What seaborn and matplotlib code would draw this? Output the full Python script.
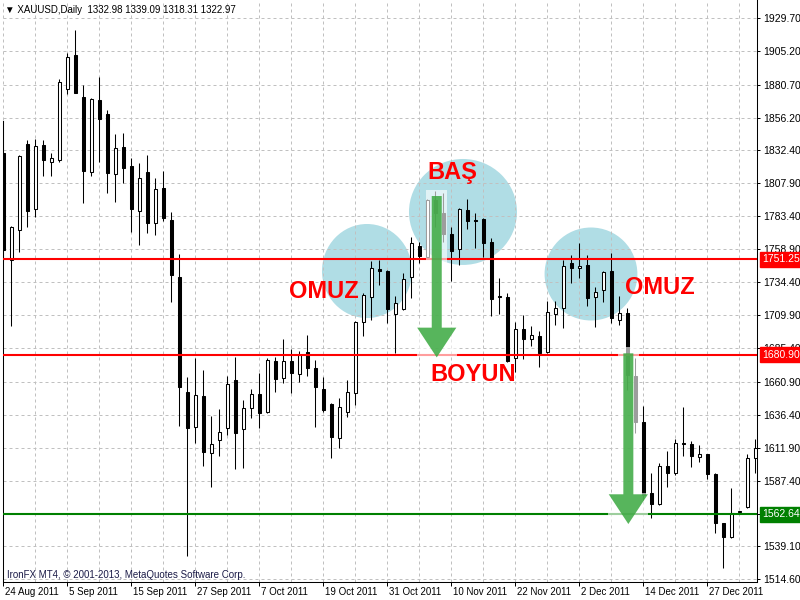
import numpy as np
import matplotlib
matplotlib.use("Agg")
import matplotlib.pyplot as plt
import matplotlib.transforms as mtransforms
from matplotlib.patches import Ellipse, FancyArrow, Polygon
from matplotlib.ticker import MultipleLocator
import seaborn as sns

# XAUUSD daily candles, 24 Aug 2011 .. early Jan 2012
opens = [1830.0, 1750.8, 1773.0, 1836.7, 1788.6, 1835.9, 1823.4, 1824.8, 1877.4, 1902.5,
         1871.5, 1816.0, 1869.2, 1858.9, 1814.5, 1834.5, 1820.4, 1787.1, 1815.9, 1778.2,
         1804.1, 1780.4, 1738.2, 1653.2, 1627.3, 1650.2, 1608.0, 1617.6, 1626.5, 1662.0,
         1625.8, 1641.3, 1651.7, 1638.4, 1676.1, 1663.5, 1676.1, 1666.5, 1682.8, 1670.9,
         1655.4, 1644.6, 1619.1, 1638.4, 1652.4, 1705.0, 1723.5, 1744.2, 1742.7, 1710.9,
         1714.6, 1738.3, 1761.2, 1753.1, 1795.2, 1785.6, 1770.1, 1759.0, 1787.8, 1780.4,
         1781.2, 1764.2, 1724.2, 1723.5, 1678.3, 1699.8, 1692.4, 1694.6, 1682.8, 1710.9,
         1715.3, 1748.6, 1744.9, 1747.1, 1723.5, 1728.6, 1742.7, 1706.4, 1711.6, 1665.0,
         1630.9, 1578.4, 1570.3, 1598.4, 1593.2, 1615.2, 1614.7, 1605.1, 1607.3, 1592.5,
         1556.0, 1545.9, 1564.4, 1568.1, 1604.3]
highs = [1853.7, 1776.0, 1828.5, 1839.6, 1840.4, 1839.6, 1830.0, 1884.8, 1904.0, 1921.0,
         1880.3, 1870.7, 1886.2, 1861.8, 1844.1, 1844.8, 1826.3, 1822.6, 1828.5, 1811.5,
         1816.7, 1786.4, 1755.3, 1664.2, 1678.3, 1669.4, 1635.4, 1640.6, 1665.0, 1679.1,
         1647.2, 1655.4, 1667.2, 1678.3, 1679.1, 1692.4, 1685.0, 1683.5, 1695.3, 1676.8,
         1664.2, 1645.0, 1648.7, 1662.0, 1705.7, 1726.4, 1750.1, 1750.8, 1743.4, 1724.2,
         1741.2, 1767.9, 1764.2, 1796.0, 1802.1, 1800.4, 1775.2, 1789.3, 1795.9, 1785.6,
         1781.9, 1767.1, 1737.5, 1726.4, 1705.0, 1710.1, 1702.0, 1698.3, 1720.5, 1720.5,
         1750.8, 1754.5, 1763.4, 1754.5, 1730.9, 1742.7, 1756.0, 1724.2, 1715.3, 1678.3,
         1642.8, 1593.2, 1600.6, 1609.5, 1618.4, 1642.1, 1616.9, 1613.9, 1607.3, 1593.2,
         1556.2, 1582.1, 1565.5, 1607.3, 1618.4]
lows = [1750.1, 1702.0, 1756.8, 1775.3, 1782.7, 1813.0, 1813.0, 1823.4, 1873.7, 1874.4,
        1793.0, 1813.0, 1823.4, 1800.4, 1793.8, 1807.8, 1771.6, 1761.9, 1770.8, 1769.3,
        1779.7, 1719.8, 1628.0, 1531.8, 1615.4, 1598.4, 1582.9, 1605.8, 1621.3, 1596.2,
        1596.9, 1633.9, 1626.5, 1637.6, 1653.2, 1659.8, 1652.4, 1660.6, 1665.0, 1627.3,
        1638.4, 1604.3, 1611.7, 1634.6, 1643.5, 1694.6, 1706.4, 1732.3, 1704.2, 1682.0,
        1713.8, 1722.7, 1748.6, 1752.3, 1775.5, 1764.2, 1735.3, 1747.1, 1773.8, 1759.7,
        1753.1, 1709.4, 1710.9, 1675.4, 1667.9, 1677.6, 1687.2, 1671.7, 1682.0, 1702.7,
        1700.5, 1733.8, 1737.5, 1716.8, 1701.3, 1719.8, 1704.2, 1702.7, 1654.6, 1622.8,
        1573.2, 1559.9, 1569.5, 1582.9, 1591.7, 1605.8, 1597.7, 1601.4, 1588.8, 1548.8,
        1522.9, 1545.1, 1564.4, 1567.3, 1593.2]
closes = [1758.2, 1775.3, 1827.8, 1787.1, 1835.2, 1824.8, 1826.3, 1882.6, 1901.1, 1874.4,
          1816.7, 1870.0, 1855.2, 1815.2, 1833.7, 1818.9, 1788.6, 1811.5, 1778.2, 1803.4,
          1781.9, 1739.7, 1656.9, 1626.5, 1650.9, 1608.8, 1614.7, 1623.6, 1659.1, 1622.8,
          1641.3, 1651.7, 1637.6, 1676.8, 1662.8, 1676.1, 1667.2, 1680.5, 1670.9, 1656.9,
          1639.8, 1619.9, 1642.1, 1653.2, 1705.0, 1724.9, 1744.9, 1742.7, 1714.6, 1719.0,
          1736.8, 1763.4, 1753.8, 1795.2, 1785.6, 1770.1, 1757.5, 1788.6, 1779.7, 1779.7,
          1763.4, 1722.0, 1723.5, 1676.1, 1699.8, 1692.4, 1695.3, 1682.0, 1712.4, 1715.3,
          1746.4, 1744.9, 1746.4, 1722.7, 1727.2, 1741.9, 1707.9, 1711.6, 1665.7, 1630.9,
          1576.9, 1570.3, 1598.4, 1593.2, 1615.4, 1614.7, 1605.8, 1607.3, 1592.5, 1556.2,
          1545.9, 1563.6, 1565.1, 1604.3, 1611.7]

date_labels = ["24 Aug 2011", "5 Sep 2011", "15 Sep 2011", "27 Sep 2011", "7 Oct 2011",
               "19 Oct 2011", "31 Oct 2011", "10 Nov 2011", "22 Nov 2011", "2 Dec 2011",
               "14 Dec 2011", "27 Dec 2011"]

price_ticks = [1929.70, 1905.20, 1880.70, 1856.20, 1832.40, 1807.90, 1783.40, 1758.90, 1734.40,
               1709.90, 1685.40, 1660.90, 1636.40, 1611.90, 1587.40, 1563.25, 1539.10, 1514.60]
price_tick_labels = ["1929.70", "1905.20", "1880.70", "1856.20", "1832.40", "1807.90", "1783.40",
                     "1758.90", "1734.40", "1709.90", "1685.40", "1660.90", "1636.40", "1611.90",
                     "1587.40", "", "1539.10", "1514.60"]

# horizontal levels: two necklines (red) and the target (green)
level_prices = [1751.25, 1680.90, 1562.64]
level_colors = ["#ff0000", "#ff0000", "#008000"]

header = "\u25bc XAUUSD,Daily  1332.98 1339.09 1318.31 1322.97"
footer = "IronFX MT4, \u00a9 2001-2013, MetaQuotes Software Corp."

sns.set_theme(style="white", rc={"axes.edgecolor": "black", "axes.linewidth": 0.75})
plt.rcParams["font.family"] = ["Liberation Sans", "DejaVu Sans"]

fig = plt.figure(figsize=(8, 6), dpi=100)
ax = fig.add_axes([2.7 / 800, 18 / 600, 754 / 800, 582 / 600])
ax.set_xlim(-0.075, 94.175)
ax.set_ylim(1512.6, 1943.24)

# --- candles ---
o = np.array(opens)
h = np.array(highs)
l = np.array(lows)
c = np.array(closes)
x = np.arange(len(o))
up = c >= o
ax.vlines(x, l, h, color="black", linewidth=0.75, zorder=2)
ax.bar(x, np.abs(c - o), bottom=np.minimum(o, c), width=0.45,
       color=["white" if u else "black" for u in up], edgecolor="black",
       linewidth=0.75, zorder=3)

# --- shoulders / head circles ---
blue = "#b0dde5"
for cx, cy, w, hh in [(45.46, 1742.7, 11.25, 69.6), (57.46, 1786.4, 13.5, 78.4),
                      (73.46, 1740.5, 11.6, 68.8)]:
    ax.add_patch(Ellipse((cx, cy), w, hh, facecolor=blue, edgecolor="none", zorder=0.2))

# --- levels ---
for p, col in zip(level_prices, level_colors):
    ax.axhline(p, color=col, linewidth=1.5, zorder=4)

# --- green arrows with their light halo ---
green = "#3aa83f"
for ax_x, top, tip in [(54.18, 1798.2, 1678.8), (78.13, 1681.8, 1555.5)]:
    halo = [(ax_x - 1.3, top + 4.4), (ax_x + 1.3, top + 4.4), (ax_x + 1.3, tip + 23),
            (ax_x + 2.5, tip + 23), (ax_x + 2.5, tip), (ax_x - 2.5, tip),
            (ax_x - 2.5, tip + 23), (ax_x - 1.3, tip + 23)]
    ax.add_patch(Polygon(halo, closed=True, facecolor="white", edgecolor="none",
                         alpha=0.62, zorder=5))
    ax.add_patch(FancyArrow(ax_x, top, 0, tip - top, width=1.25, head_width=4.9,
                            head_length=22, length_includes_head=True,
                            facecolor=green, edgecolor="none", alpha=0.85, zorder=6))

# --- pattern labels ---
lab = dict(color="#ff0000", fontsize=17, fontweight="bold", ha="center", va="baseline",
           family="Liberation Sans", zorder=8)
ax.text(56.1, 1810.6, "BAŞ", **lab)
ax.text(40.06, 1722.5, "OMUZ", **lab)
ax.text(82.09, 1725.5, "OMUZ", **lab)
ax.text(58.7, 1661.3, "BOYUN", **lab)

# --- grid & axes ---
ax.set_axisbelow(True)
ax.set_xticks(np.arange(0, 8 * len(date_labels), 8))
ax.set_xticklabels(date_labels, ha="left")
ax.xaxis.set_minor_locator(MultipleLocator(4))
ax.set_yticks(price_ticks)
ax.set_yticklabels(price_tick_labels)
ax.yaxis.tick_right()
ax.grid(True, which="both", color="#c0c0c0", linestyle=(0, (3, 3)), linewidth=0.72)
ax.tick_params(axis="x", which="major", bottom=True, length=3.2, width=0.72, pad=0.6,
               labelsize=7, colors="black")
ax.tick_params(axis="x", which="minor", length=0)
ax.tick_params(axis="y", right=True, left=False, length=2.5, width=0.72, pad=2,
               labelsize=7.5, colors="black")
shift = mtransforms.ScaledTranslation(2 / 100, 0, fig.dpi_scale_trans)
for t in ax.get_xticklabels():
    t.set_transform(t.get_transform() + shift)

ax.spines["top"].set_visible(False)
ax.spines["left"].set_bounds(1512.6, 1853.7)
for s in ["left", "right", "bottom"]:
    ax.spines[s].set_linewidth(0.75)
    ax.spines[s].set_color("black")

# price boxes on the right scale
blend = mtransforms.blended_transform_factory(ax.transAxes, ax.transData)
for p, col in zip(level_prices, level_colors):
    ax.text(1.0075, p, f"{p:.2f}", transform=blend, color="white", fontsize=7.5,
            va="center", ha="left", clip_on=False, zorder=10,
            bbox=dict(boxstyle="square,pad=0.22", facecolor=col, edgecolor=col))

ax.text(0.0035, 0.983, header, transform=ax.transAxes, fontsize=7, va="center", ha="left",
        color="black", zorder=10)
ax.text(0.006, 0.012, footer, transform=ax.transAxes, fontsize=7, va="center", ha="left",
        color="#1c1c48", zorder=10)

fig.savefig("out.png", dpi=100, facecolor="white")
